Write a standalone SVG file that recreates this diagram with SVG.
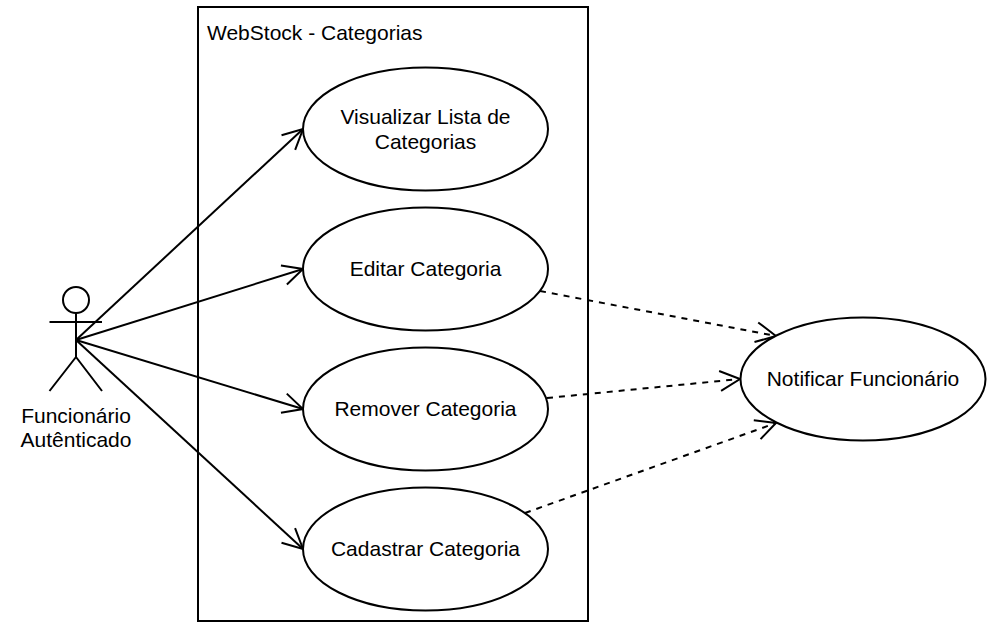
<svg xmlns="http://www.w3.org/2000/svg" width="999" height="632" viewBox="0 0 999 632">
<style>
.s{fill:none;stroke:#000;stroke-width:2}
.e{fill:#fff;stroke:#000;stroke-width:2}
.d{stroke-dasharray:6 6}
text{font-family:"Liberation Sans",Arial,sans-serif;font-size:21px;fill:#000;text-anchor:middle}
</style>
<defs>
<marker id="a" markerUnits="userSpaceOnUse" markerWidth="32" markerHeight="24" refX="28" refY="12" orient="auto" overflow="visible"><path d="M8 2L28 12L8 22" fill="none" stroke="#000" stroke-width="2"/></marker>
</defs>
<rect width="999" height="632" fill="#fff"/>
<g id="boundary"><rect class="s" x="198" y="7" width="390" height="614"/><text x="207" y="40" style="text-anchor:start">WebStock - Categorias</text></g>
<g id="connectors">
<path class="s" marker-end="url(#a)" d="M76 340L303 129"/>
<path class="s" marker-end="url(#a)" d="M76 340L303 269"/>
<path class="s" marker-end="url(#a)" d="M76 340L303 409"/>
<path class="s" marker-end="url(#a)" d="M76 340L303 549"/>
<path class="s d" marker-end="url(#a)" d="M540 291L776 336"/>
<path class="s d" marker-end="url(#a)" d="M547 398L740 379"/>
<path class="s d" marker-end="url(#a)" d="M525 513L776 423"/>
</g>
<g id="actor"><circle class="e" cx="76" cy="300" r="13"/><path class="s" d="M76 313V357M49.500 322H102M76 357L49.500 391M76 357L102 391"/><text x="76" y="423">Funcionário</text><text x="76" y="447">Autênticado</text></g>
<g id="uc1"><ellipse class="e" cx="425.500" cy="129" rx="122.500" ry="61.500"/><text x="425.500" y="124">Visualizar Lista de</text><text x="425.500" y="149">Categorias</text></g>
<g id="uc2"><ellipse class="e" cx="425.500" cy="269" rx="122.500" ry="61.500"/><text x="425.500" y="276">Editar Categoria</text></g>
<g id="uc3"><ellipse class="e" cx="425.500" cy="409" rx="122.500" ry="61.500"/><text x="425.500" y="416">Remover Categoria</text></g>
<g id="uc4"><ellipse class="e" cx="425.500" cy="549" rx="122.500" ry="61.500"/><text x="425.500" y="556">Cadastrar Categoria</text></g>
<g id="notify"><ellipse class="e" cx="863" cy="379" rx="122.500" ry="61.500"/><text x="863" y="386">Notificar Funcionário</text></g>
</svg>
